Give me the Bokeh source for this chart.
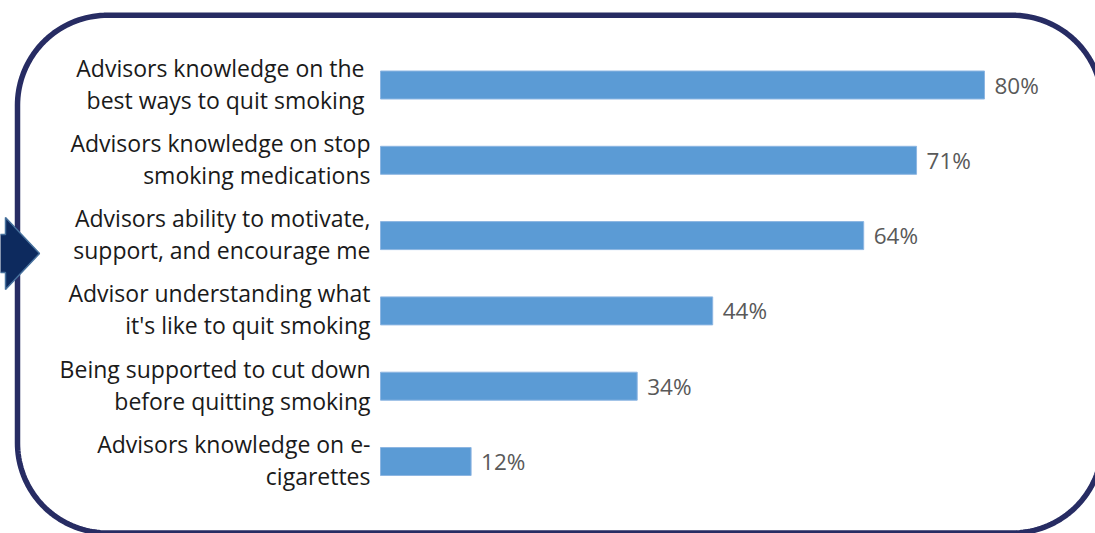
import numpy as np
from bokeh.plotting import figure
from bokeh.models import Range1d, ColumnDataSource
from bokeh.core.properties import value
from bokeh.embed import file_html
from bokeh.resources import INLINE

categories = [
    "Advisors knowledge on the \nbest ways to quit smoking ",
    "Advisors knowledge on stop\nsmoking medications",
    "Advisors ability to motivate,\nsupport, and encourage me",
    "Advisor understanding what\nit's like to quit smoking",
    "Being supported to cut down\nbefore quitting smoking",
    "Advisors knowledge on e-\ncigarettes",
]
values = [80, 71, 64, 44, 34, 12]
value_labels = ["80%", "71%", "64%", "44%", "34%", "12%"]

W, H = 1095, 533
FONT = "Open Sans"

src = ColumnDataSource(dict(
    y=list(range(len(categories))),
    v=values,
    cat=categories,
    lab=value_labels,
))

p = figure(width=W, height=H, output_backend="svg", toolbar_location=None,
           x_range=Range1d(-380 / 7.55, (W - 380) / 7.55),
           y_range=Range1d(5 + (H - 461) / 75.3, -84.5 / 75.3),
           min_border=0, outline_line_color=None)
p.axis.visible = False
p.grid.visible = False
p.background_fill_color = "white"
p.border_fill_color = "white"

# decorations in pixel space
p.extra_x_ranges = {"px": Range1d(0, W)}
p.extra_y_ranges = {"px": Range1d(H, 0)}

L, T, R, B, RAD = 17, 14.8, 1102, 532.5, 90
xs, ys = [], []
def arc(cx, cy, a0, a1):
    t = np.linspace(np.radians(a0), np.radians(a1), 40)
    xs.extend(cx + RAD * np.cos(t))
    ys.extend(cy + RAD * np.sin(t))
arc(L + RAD, T + RAD, 180, 270)
arc(R - RAD, T + RAD, 270, 360)
arc(R - RAD, B - RAD, 0, 90)
arc(L + RAD, B - RAD, 90, 180)
xs.append(xs[0]); ys.append(ys[0])
p.line(xs, ys, line_color="#272C63", line_width=5.5,
       x_range_name="px", y_range_name="px")

ax = [-2, 5, 5, 39, 5, 5, -2]
ay = [234, 234, 217, 253, 289, 272, 272]
p.patch(ax, ay, fill_color="#0D2A5E", line_color="#46709C", line_width=1.5,
        x_range_name="px", y_range_name="px")

p.hbar(y="y", right="v", left=0, height=28 / 75.3, source=src,
       fill_color="#5B9BD5", line_color="#8DB6E2", line_width=1)

p.text(x=0, y="y", text="cat", source=src, x_offset=-10, y_offset=-1.5,
       text_align="right", text_baseline="middle",
       text_font=value(FONT), text_font_size="23px", text_color="#1A1A1A",
       text_line_height=1.0)

p.text(x="v", y="y", text="lab", source=src, x_offset=10,
       text_align="left", text_baseline="middle",
       text_font=value(FONT), text_font_size="22.5px", text_color="#595959")

open("out.html", "w").write(file_html(p, INLINE))
